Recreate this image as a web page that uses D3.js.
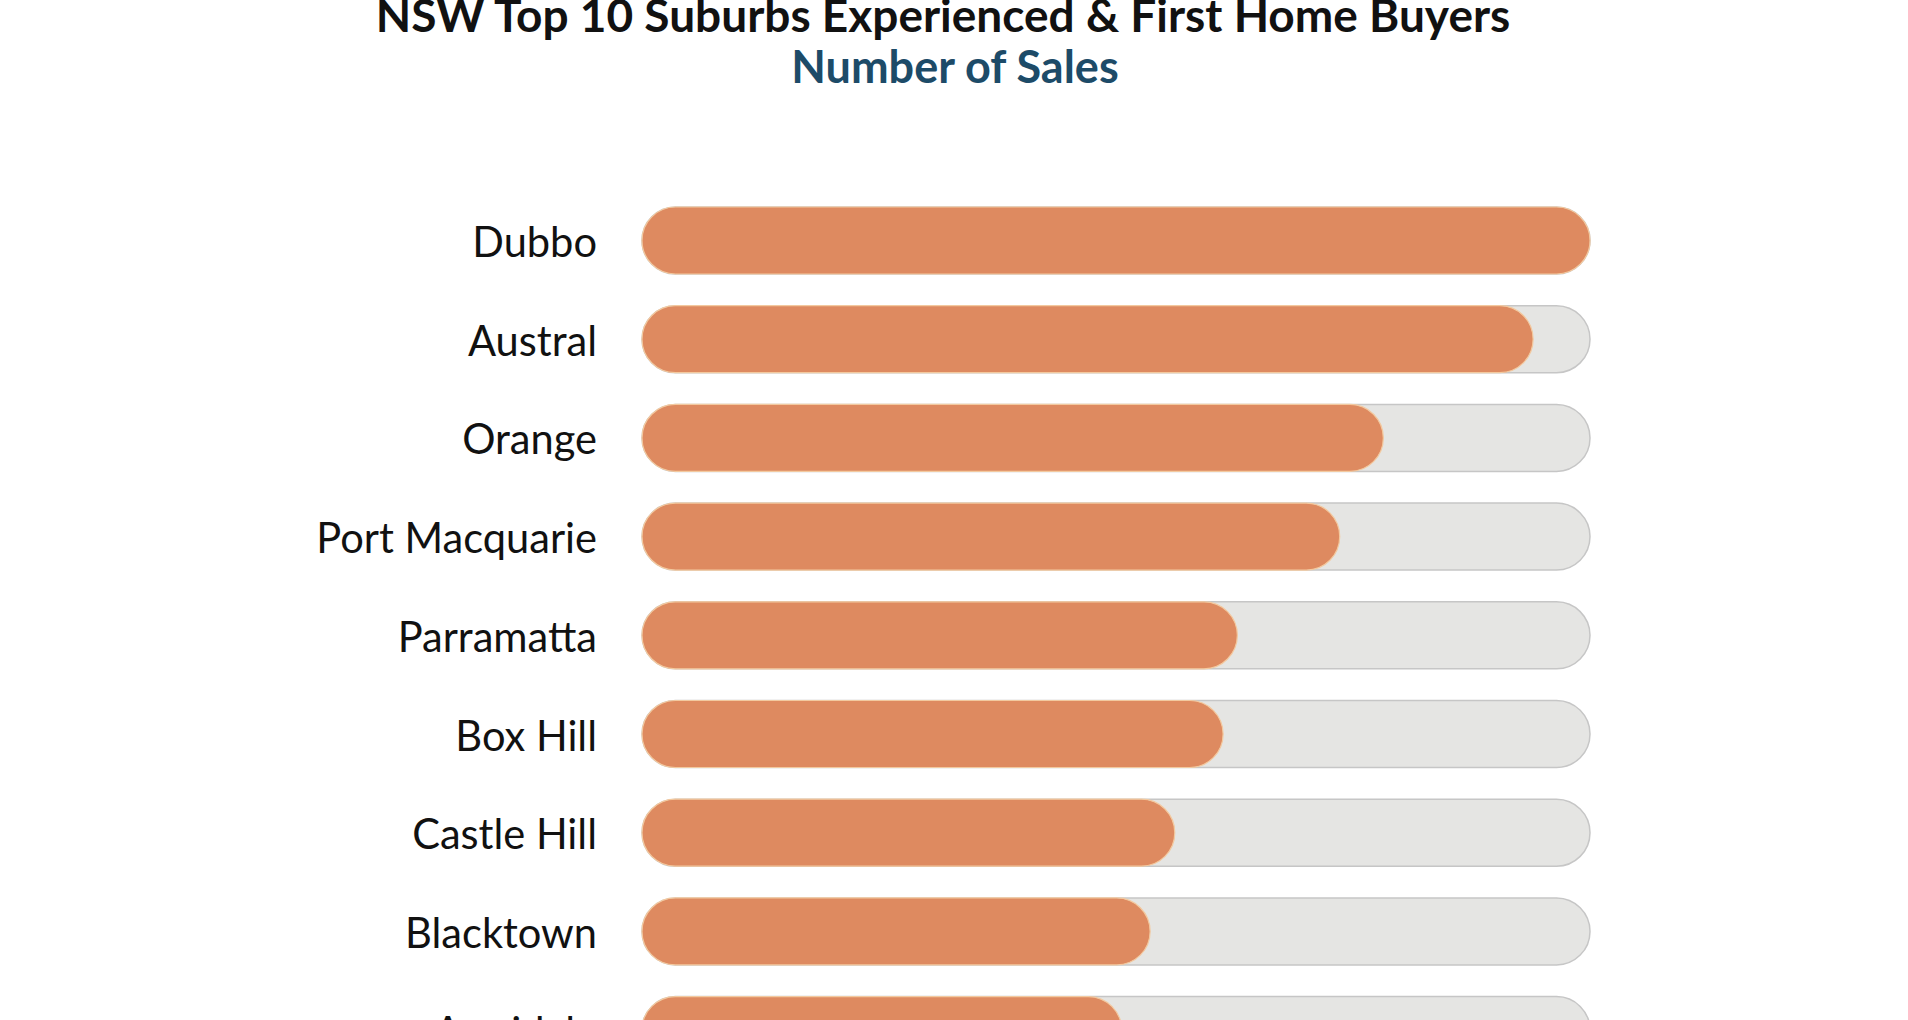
<!DOCTYPE html>
<html>
<head>
<meta charset="utf-8">
<script src="https://cdn.jsdelivr.net/npm/d3@7"></script>
<style>
  body { margin: 0; background: #ffffff; }
  svg { display: block; }
  .label { font-family: Lato, sans-serif; font-size: 41.6px; fill: #111111; }
  .title { font-family: Lato, sans-serif; font-weight: bold; font-size: 46px; fill: #111111; }
  .subtitle { font-family: Lato, sans-serif; font-weight: bold; font-size: 45px; fill: #1d4b68; }
  .track { fill: #e5e5e3; stroke: #c6c6c6; stroke-width: 1.5; }
  .bar { fill: #de8a60; stroke: #f3c99f; stroke-width: 1.2; }
</style>
</head>
<body>
<svg id="chart" width="1908" height="1020"></svg>
<script>
// suburbs in chart order, value = relative number of sales (Dubbo = 100)
const suburbs = ["Dubbo", "Austral", "Orange", "Port Macquarie", "Parramatta",
  "Box Hill", "Castle Hill", "Blacktown", "Armidale"];
const sales = [100, 94, 78.2, 73.6, 62.8, 61.3, 56.2, 53.6, 50.6];
const maxSales = 100;

const titleText = "NSW Top 10 Suburbs Experienced & First Home Buyers";
const subtitleText = "Number of Sales";

const svg = d3.select("#chart");
const barHeight = 67;

const x = d3.scaleLinear()
  .domain([0, maxSales])
  .range([642, 1590]);

const y = d3.scalePoint()
  .domain(suburbs)
  .range([240.5, 240.5 + 98.7 * (suburbs.length - 1)]);

const data = suburbs.map((s, i) => ({ name: s, value: sales[i] }));

//titles
svg.append("text")
  .attr("class", "title")
  .attr("x", 943)
  .attr("y", 32)
  .attr("text-anchor", "middle")
  .text(titleText);

svg.append("text")
  .attr("class", "subtitle")
  .attr("x", 955)
  .attr("y", 83)
  .attr("text-anchor", "middle")
  .text(subtitleText);

const rows = svg.append("g").selectAll("g.row").data(data)
  .join("g")
  .attr("class", "row")
  .attr("transform", d => `translate(0,${y(d.name)})`);

//grey background track
rows.append("rect")
  .attr("class", "track")
  .attr("x", x(0))
  .attr("y", -barHeight / 2)
  .attr("width", x(maxSales) - x(0))
  .attr("height", barHeight)
  .attr("rx", barHeight / 2)
  .attr("ry", barHeight / 2);

//orange value bar
rows.append("rect")
  .attr("class", "bar")
  .attr("x", x(0))
  .attr("y", -barHeight / 2)
  .attr("width", d => x(d.value) - x(0))
  .attr("height", barHeight)
  .attr("rx", barHeight / 2)
  .attr("ry", barHeight / 2);

//suburb labels
rows.append("text")
  .attr("class", "label")
  .attr("x", 597)
  .attr("y", 2)
  .attr("dy", "0.35em")
  .attr("text-anchor", "end")
  .text(d => d.name);
</script>
</body>
</html>
